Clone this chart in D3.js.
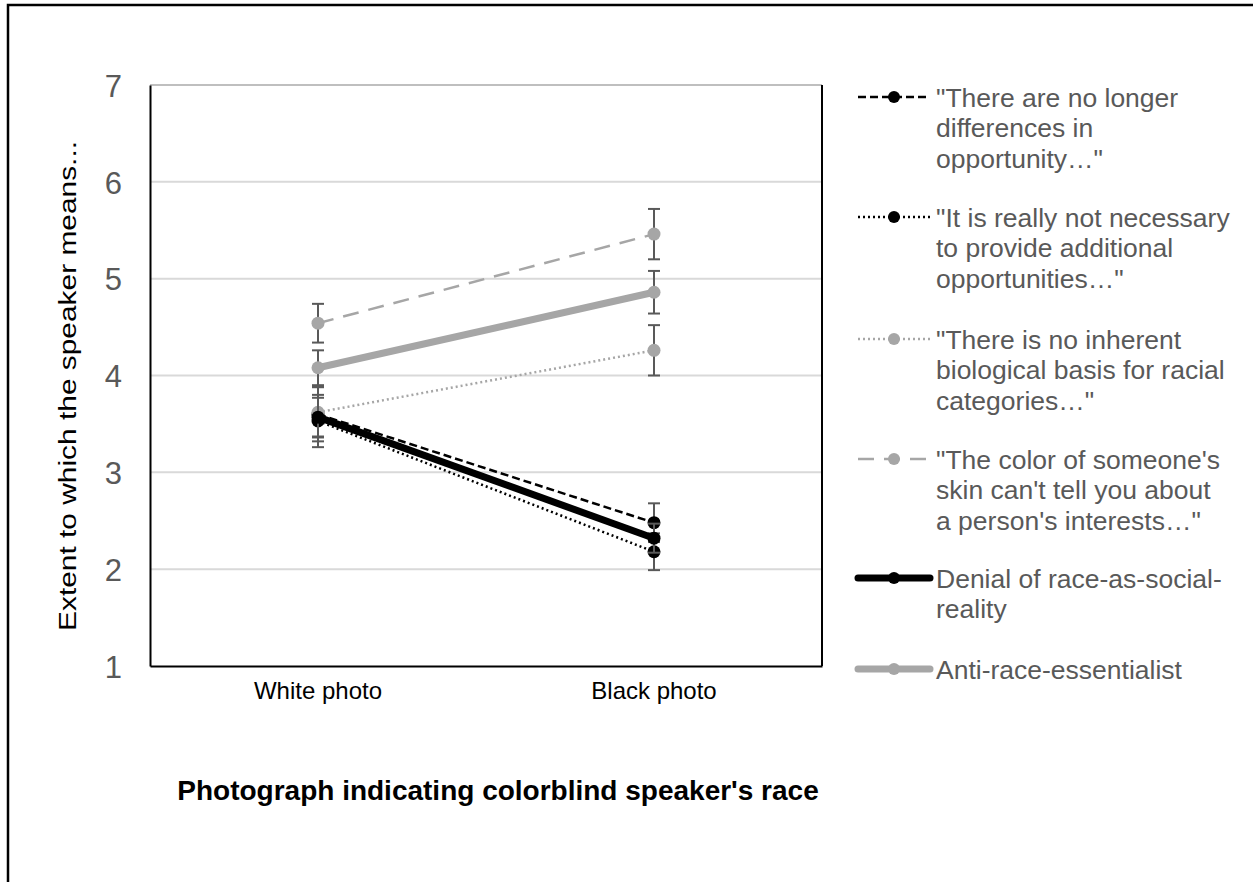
<!DOCTYPE html>
<html lang="en">
<head>
    <meta charset="UTF-8">
    <title>Colorblind speaker's race</title>
    <script src="https://d3js.org/d3.v7.min.js"></script>
    <style>
        body {
            margin: 0;
            padding: 0;
            background: #fff;
            font-family: Arial, "Liberation Sans", sans-serif;
        }
        svg {
            display: block;
        }
        .grid line {
            stroke: #d9d9d9;
            stroke-width: 2px;
        }
        .ylabel {
            fill: #595959;
            font-size: 31px;
        }
        .xlabel {
            fill: #000;
            font-size: 24px;
        }
        .legend text {
            fill: #595959;
            font-size: 26.5px;
        }
    </style>
</head>
<body>
    <svg width="1253" height="882"></svg>

    <script>
        // data
        const categories = ["White photo", "Black photo"];
        const yTicks = [1, 2, 3, 4, 5, 6, 7];

        const seriesNames = [
            "\"There are no longer differences in opportunity…\"",
            "\"It is really not necessary to provide additional opportunities…\"",
            "\"There is no inherent biological basis for racial categories…\"",
            "\"The color of someone's skin can't tell you about a person's interests…\"",
            "Denial of race-as-social-reality",
            "Anti-race-essentialist"
        ];
        const legendLines = [
            ["\"There are no longer", "differences in", "opportunity…\""],
            ["\"It is really not necessary", "to provide additional", "opportunities…\""],
            ["\"There is no inherent", "biological basis for racial", "categories…\""],
            ["\"The color of someone's", "skin can't tell you about", "a person's interests…\""],
            ["Denial of race-as-social-", "reality"],
            ["Anti-race-essentialist"]
        ];
        const seriesMeans = [
            [3.60, 2.48],
            [3.53, 2.18],
            [3.62, 4.26],
            [4.54, 5.46],
            [3.57, 2.32],
            [4.08, 4.86]
        ];
        const seriesErrors = [
            [0.28, 0.20],
            [0.27, 0.19],
            [0.26, 0.26],
            [0.20, 0.26],
            [0.20, 0.15],
            [0.18, 0.22]
        ];

        // look of each series
        const seriesStyle = [
            { color: "#000", width: 2.5, dash: "8,4" },
            { color: "#000", width: 2.5, dash: "2,3" },
            { color: "#a6a6a6", width: 2.5, dash: "2,3" },
            { color: "#a6a6a6", width: 2.5, dash: "16,10" },
            { color: "#000", width: 7, dash: null },
            { color: "#a6a6a6", width: 7, dash: null }
        ];

        const svg = d3.select("svg");

        // outer chart border
        svg.append("path")
            .attr("d", "M8,882 V5 H1253")
            .attr("fill", "none")
            .attr("stroke", "#000")
            .attr("stroke-width", 2.5);

        const plot = { left: 150, top: 85, right: 822, bottom: 666 };

        const x = d3.scaleBand()
            .domain(categories)
            .range([plot.left, plot.right]);

        const y = d3.scaleLinear()
            .domain([1, 7])
            .range([plot.bottom, plot.top]);

        // gridlines
        svg.append("g")
            .attr("class", "grid")
            .selectAll("line")
            .data(yTicks.filter(d => d > 1 && d < 7))
            .enter()
            .append("line")
            .attr("x1", plot.left)
            .attr("x2", plot.right)
            .attr("y1", d => y(d))
            .attr("y2", d => y(d));

        // plot frame
        svg.append("line")
            .attr("x1", plot.left).attr("x2", plot.right)
            .attr("y1", plot.top).attr("y2", plot.top)
            .attr("stroke", "#bfbfbf").attr("stroke-width", 2);
        svg.append("line")
            .attr("x1", plot.right).attr("x2", plot.right)
            .attr("y1", plot.top).attr("y2", plot.bottom)
            .attr("stroke", "#000").attr("stroke-width", 2);

        // axes
        const yAxis = svg.append("g")
            .attr("transform", `translate(${plot.left},0)`)
            .call(d3.axisLeft(y).tickValues(yTicks).tickFormat(d3.format("d")).tickSize(0).tickPadding(28));
        yAxis.select(".domain").attr("stroke", "#000").attr("stroke-width", 2);
        yAxis.selectAll("text")
            .attr("class", "ylabel")
            .attr("font-family", null)
            .attr("dy", "0.36em");

        const xAxis = svg.append("g")
            .attr("transform", `translate(0,${plot.bottom})`)
            .call(d3.axisBottom(x).tickSize(0).tickPadding(16));
        xAxis.select(".domain").attr("stroke", "#000").attr("stroke-width", 2);
        xAxis.selectAll("text")
            .attr("class", "xlabel")
            .attr("font-family", null);

        // axis titles
        svg.append("text")
            .attr("transform", "translate(76,386) rotate(-90)")
            .attr("text-anchor", "middle")
            .attr("font-size", 23)
            .attr("textLength", 490)
            .attr("lengthAdjust", "spacingAndGlyphs")
            .text("Extent to which the speaker means...");

        svg.append("text")
            .attr("x", 498)
            .attr("y", 800)
            .attr("text-anchor", "middle")
            .attr("font-size", 28)
            .attr("font-weight", "bold")
            .text("Photograph indicating colorblind speaker's race");

        const line = d3.line()
            .x((d, i) => x(categories[i]) + x.bandwidth() / 2)
            .y(d => y(d));

        const cx = i => x(categories[i]) + x.bandwidth() / 2;

        seriesMeans.forEach((vals, s) => {
            const st = seriesStyle[s];
            const g = svg.append("g");

            // error bars
            vals.forEach((v, i) => {
                const e = seriesErrors[s][i];
                g.append("line")
                    .attr("x1", cx(i)).attr("x2", cx(i))
                    .attr("y1", y(v - e)).attr("y2", y(v + e))
                    .attr("stroke", "#595959").attr("stroke-width", 2);
                [v - e, v + e].forEach(c => {
                    g.append("line")
                        .attr("x1", cx(i) - 6).attr("x2", cx(i) + 6)
                        .attr("y1", y(c)).attr("y2", y(c))
                        .attr("stroke", "#595959").attr("stroke-width", 2);
                });
            });

            g.append("path")
                .datum(vals)
                .attr("d", line)
                .attr("fill", "none")
                .attr("stroke", st.color)
                .attr("stroke-width", st.width)
                .attr("stroke-dasharray", st.dash);

            g.selectAll("circle")
                .data(vals)
                .enter()
                .append("circle")
                .attr("cx", (d, i) => cx(i))
                .attr("cy", d => y(d))
                .attr("r", 6.5)
                .attr("fill", st.color);
        });

        // legend
        const legendTop = [97, 217, 339, 459, 578, 669];
        const legend = svg.append("g").attr("class", "legend");
        seriesNames.forEach((name, s) => {
            const st = seriesStyle[s];
            const ly = legendTop[s];
            const g = legend.append("g").attr("transform", `translate(0,${ly})`);
            g.append("line")
                .attr("x1", 858).attr("x2", 930)
                .attr("y1", 0).attr("y2", 0)
                .attr("stroke", st.color)
                .attr("stroke-width", st.width)
                .attr("stroke-linecap", st.dash ? "butt" : "round")
                .attr("stroke-dasharray", st.dash);
            g.append("circle")
                .attr("cx", 894).attr("cy", 0).attr("r", 6)
                .attr("fill", st.color);
            const t = g.append("text")
                .attr("x", 936)
                .attr("y", 0);
            legendLines[s].forEach((ln, k) => {
                t.append("tspan")
                    .attr("x", 936)
                    .attr("dy", k === 0 ? "0.36em" : 30.5)
                    .text(ln);
            });
        });
    </script>
</body>
</html>
